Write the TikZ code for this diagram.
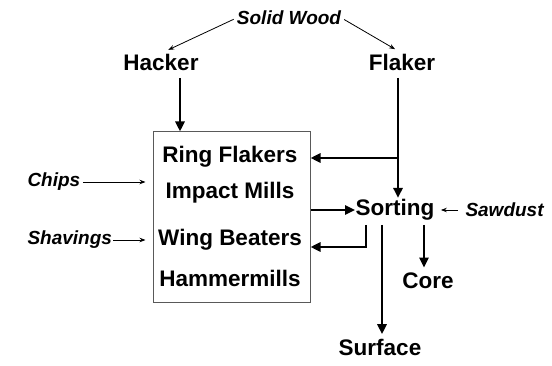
\documentclass[tikz,border=0pt]{standalone}
\usepackage{fontspec}
\setmainfont{Liberation Sans}
\usetikzlibrary{arrows.meta}

\begin{document}
\begin{tikzpicture}[x=1pt, y=-1pt, line width=1pt,
    every node/.style={font=\bfseries\fontsize{22.5}{26}\selectfont, inner sep=0pt},
    feed/.style={font=\bfseries\itshape\fontsize{19}{22}\selectfont},
    thinarrow/.style={-{Stealth[length=6pt,width=4.5pt]}, line width=0.8pt},
    flow/.style={-{Triangle[length=10pt,width=9pt]}, line width=2.8pt}]
  \useasboundingbox (0,0) rectangle (552,366);

  % sources
  \node[feed] (wood) at (289,18) {Solid Wood};
  \node (hacker) at (161,62) {Hacker};
  \node (flaker) at (402,62) {Flaker};
  \draw[thinarrow, shorten <=3pt, shorten >=8pt] (wood.west) -- (hacker.north);
  \draw[thinarrow, shorten <=3pt, shorten >=8pt] (wood.east) -- (flaker.north);

  % mills
  \node[draw=gray!70!black, line width=1pt, minimum width=157pt, minimum height=171pt] (box) at (231.5,217.5) {};
  \node (ring) at (230,157) {Ring Flakers};
  \node (impact) at (230,193) {Impact Mills};
  \node (wing) at (230,240) {Wing Beaters};
  \node (hammer) at (230,278) {Hammermills};

  \node[feed, anchor=west] (chips) at (27,182) {Chips};
  \node[feed, anchor=west] (shavings) at (27,240) {Shavings};
  \draw[thinarrow, shorten <=2pt, shorten >=7pt] (chips.east) -- (box.west |- chips);
  \draw[thinarrow, shorten <=1pt, shorten >=7pt] (shavings.east) -- (box.west |- shavings);

  \coordinate (hackerdown) at (180,78);
  \draw[flow] (hackerdown) -- (box.north -| hackerdown);

  % sorting
  \node (sorting) at (395,210) {Sorting};
  \node[feed, anchor=west] (sawdust) at (465,210) {Sawdust};
  \node (core) at (428,281) {Core};
  \node (surface) at (380,347) {Surface};

  \coordinate (split) at (398,158);
  \draw[line width=2.8pt] (split |- 0,78) -- (split);
  \draw[flow] (split) -- (box.east |- split);
  \draw[flow, shorten >=1pt] (split) -- (split |- sorting.north);
  \draw[flow] (box.east |- sorting) -- (sorting.west);
  \draw[thinarrow, shorten <=7pt, shorten >=6pt] (sawdust.west) -- (sorting.east);

  \coordinate (back) at (366,225);
  \coordinate (ret) at (366,247);
  \draw[flow] (back) -- (ret) -- (box.east |- ret);
  \coordinate (surfacedown) at (382,225);
  \draw[flow, shorten >=4pt] (surfacedown) -- (surfacedown |- surface.north);
  \coordinate (coredown) at (424,225);
  \draw[flow, shorten >=5pt] (coredown) -- (coredown |- core.north);
\end{tikzpicture}
\end{document}
